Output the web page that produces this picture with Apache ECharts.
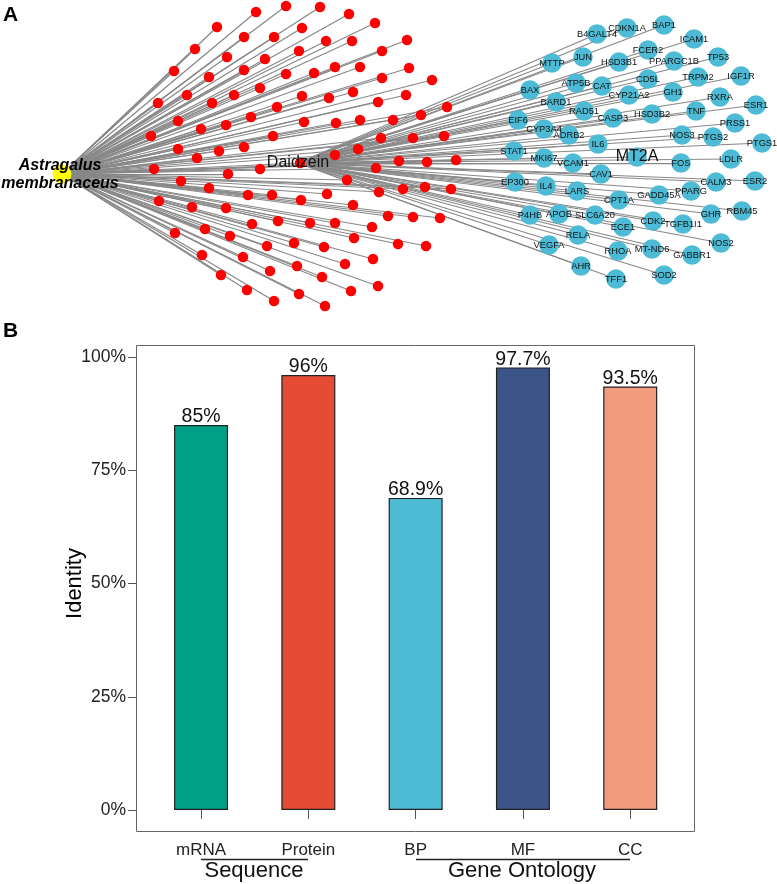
<!DOCTYPE html>
<html><head><meta charset="utf-8">
<style>html,body{margin:0;padding:0;background:#fff}#c{width:777px;height:884px}</style>
<script src="https://cdn.jsdelivr.net/npm/echarts@6/dist/echarts.min.js"></script>
</head><body><div id="c"></div>
<script>
const barCategories = ['mRNA','Protein','BP','MF','CC'];
const barValues = [85,96,68.9,97.7,93.5];
const barLabels = ['85%','96%','68.9%','97.7%','93.5%'];
const barColors = ['#00A087','#E64B35','#4DBBD5','#3C5488','#F39B7F'];
const yTicks = [0,25,50,75,100];

const herb = {name:'Astragalus\nmembranaceus', at:[62,174]};
const hub = {name:'Daidzein', at:[298,163]};
const compounds = [
[256,12],[286,6],[320,7],[349,14],[375,23],[217,27],[244,37],[274,37],[302,28],[326,41],[352,41],[382,51],
[195,49],[227,57],[265,59],[299,51],[174,71],[209,77],[244,70],[286,74],[314,73],[335,67],[360,67],[382,78],
[158,103],[187,95],[212,103],[234,95],[260,88],[302,96],[329,98],[353,92],[378,102],[178,121],[201,129],[226,125],
[251,117],[277,107],[304,122],[336,123],[360,120],[393,120],[151,136],[178,149],[197,158],[219,151],[244,147],[273,136],
[335,155],[358,149],[381,138],[154,169],[181,181],[228,174],[260,169],[300,163],[376,168],[347,180],[209,188],[248,195],
[272,195],[301,200],[327,194],[379,192],[159,201],[192,207],[226,208],[353,205],[388,216],[252,224],[278,221],[310,223],
[335,223],[372,227],[175,233],[205,229],[230,236],[267,246],[294,243],[324,247],[354,238],[202,255],[243,257],[297,266],
[345,264],[373,259],[221,275],[270,271],[322,277],[378,286],[247,290],[274,301],[299,294],[325,306],[351,291],
[407,40],[409,68],[432,80],[406,95],[421,115],[447,107],[413,138],[444,136],[399,161],[427,162],[456,160],
[403,189],[425,187],[451,189],[413,217],[440,218],[398,244],[426,246]
];
const targetNames = ['B4GALT4','CDKN1A','BAP1','ICAM1','MTTP','JUN','HSD3B1','FCER2','PPARGC1B','TP53','BAX','ATP5B','CAT','CD5L','GH1','CYP21A2','TRPM2','IGF1R','RXRA','ESR1','BARD1','RAD51','CASP3','HSD3B2','TNF','EIF6','CYP3A4','ADRB2','IL6','NOS3','PTGS2','PRSS1','PTGS1','STAT1','MKI67','VCAM1','MT2A','FOS','LDLR','CAV1','EP300','IL4','LARS','CPT1A','GADD45A','PPARG','CALM3','ESR2','GHR','RBM45','P4HB','APOB','SLC6A20','ECE1','CDK2','TGFB1I1','RELA','VEGFA','RHOA','MT-ND6','GABBR1','NOS2','AHR','TFF1','SOD2'];
const targetX = [597,627,664,694,552,583,619,648,674,718,530,576,602,648,673,629,698,741,720,756,556,584,613,652,696,518,544,569,598,682,713,735,762,514,544,573,637,681,731,601,515,546,577,619,659,691,716,755,711,742,530,559,595,623,653,683,578,549,618,652,692,721,581,616,664];
const targetY = [34,28,25,39,63,57,62,50,61,57,90,83,86,79,92,95,77,76,97,105,102,111,118,114,111,120,129,135,144,135,137,123,143,151,158,163,157,163,159,174,182,186,191,200,195,191,182,181,214,211,215,214,215,227,221,224,235,245,251,249,255,243,266,279,275];

const FONT = '"Liberation Sans", Arial, sans-serif';
const links = [];
compounds.forEach(p => links.push({coords:[herb.at,p]}));
targetNames.forEach((n,i) => links.push({coords:[hub.at,[targetX[i],targetY[i]]]}));

const chart = echarts.init(document.getElementById('c'), null, {renderer:'canvas'});
chart.setOption({
  animation:false,
  backgroundColor:'#fff',
  grid:[
    {left:0,top:0,width:777,height:884,show:false},
    {left:147.4,top:357,width:536.5,height:453,show:false}
  ],
  xAxis:[
    {gridIndex:0,type:'value',min:0,max:777,show:false},
    {gridIndex:1,type:'category',data:barCategories,position:'bottom',offset:22,
     axisLine:{show:false},
     axisTick:{show:true,alignWithLabel:true,length:9,lineStyle:{color:'#555',width:1}},
     axisLabel:{fontFamily:FONT,fontSize:17,color:'#222',margin:10}}
  ],
  yAxis:[
    {gridIndex:0,type:'value',min:0,max:884,inverse:true,show:false},
    {gridIndex:1,type:'value',min:0,max:100,interval:25,position:'left',offset:11.4,
     splitLine:{show:false},
     axisLine:{show:false},
     axisTick:{show:true,length:8,lineStyle:{color:'#555',width:1}},
     axisLabel:{fontFamily:FONT,fontSize:17.5,color:'#222',margin:10,formatter:v=>v+'%'},
     name:'Identity',nameLocation:'middle',nameGap:50,nameRotate:90,nameMoveOverlap:false,
     nameTextStyle:{fontFamily:FONT,fontSize:22,color:'#000'}}
  ],
  series:[
    {type:'lines',coordinateSystem:'cartesian2d',xAxisIndex:0,yAxisIndex:0,z:1,silent:true,
     lineStyle:{color:'#888888',width:1.25,opacity:1,curveness:0},data:links},
    {type:'scatter',xAxisIndex:0,yAxisIndex:0,z:2,symbol:'circle',symbolSize:10.5,silent:true,
     itemStyle:{color:'#ff0000',opacity:1},data:compounds},
    {type:'scatter',xAxisIndex:0,yAxisIndex:0,z:3,symbol:'circle',symbolSize:19.5,silent:true,
     itemStyle:{color:'#4DBBD5',opacity:1},
     label:{show:true,position:'inside',fontFamily:FONT,fontSize:9.3,color:'#111',formatter:p=>p.name},
     data:targetNames.map((n,i)=>({name:n,value:[targetX[i],targetY[i]],
        label:n==='MT2A'?{fontSize:16}:undefined}))},
    {type:'scatter',xAxisIndex:0,yAxisIndex:0,z:4,symbol:'circle',symbolSize:19,silent:true,
     itemStyle:{color:'#FFFF00',opacity:1},
     label:{show:true,position:'inside',offset:[-2,1],fontFamily:FONT,fontSize:16,fontWeight:'bold',fontStyle:'italic',
            color:'#000',lineHeight:18,formatter:p=>p.name},
     data:[{name:herb.name,value:herb.at}]},
    {type:'scatter',xAxisIndex:0,yAxisIndex:0,z:4,symbol:'circle',symbolSize:0.1,silent:true,
     itemStyle:{color:'#ff0000',opacity:1},
     label:{show:true,position:'inside',fontFamily:FONT,fontSize:16,color:'#111',formatter:p=>p.name},
     data:[{name:hub.name,value:hub.at}]},
    {type:'bar',xAxisIndex:1,yAxisIndex:1,barWidth:54,z:3,silent:true,
     label:{show:true,position:'top',distance:-2,fontFamily:FONT,fontSize:19.5,color:'#111',
            formatter:p=>barLabels[p.dataIndex]},
     itemStyle:{borderColor:'#222',borderWidth:1.2},
     data:barValues.map((v,i)=>({value:v,itemStyle:{color:barColors[i]}}))}
  ],
  graphic:[
    {type:'rect',silent:true,z:1,shape:{x:136.5,y:345.5,width:558,height:486},style:{fill:'none',stroke:'#666',lineWidth:1}},
    {type:'line',silent:true,shape:{x1:201,y1:859.5,x2:308,y2:859.5},style:{stroke:'#222',lineWidth:1.5}},
    {type:'line',silent:true,shape:{x1:416,y1:859.5,x2:630,y2:859.5},style:{stroke:'#222',lineWidth:1.5}},
    {type:'text',silent:true,x:254,y:871,style:{text:'Sequence',font:'22px '+FONT,fill:'#111',textAlign:'center',textVerticalAlign:'middle'}},
    {type:'text',silent:true,x:522,y:871,style:{text:'Gene Ontology',font:'22px '+FONT,fill:'#111',textAlign:'center',textVerticalAlign:'middle'}},
    {type:'text',silent:true,x:3,y:15,style:{text:'A',font:'bold 21px '+FONT,fill:'#000',textVerticalAlign:'middle'}},
    {type:'text',silent:true,x:3,y:331,style:{text:'B',font:'bold 21px '+FONT,fill:'#000',textVerticalAlign:'middle'}}
  ]
});
</script></body></html>
